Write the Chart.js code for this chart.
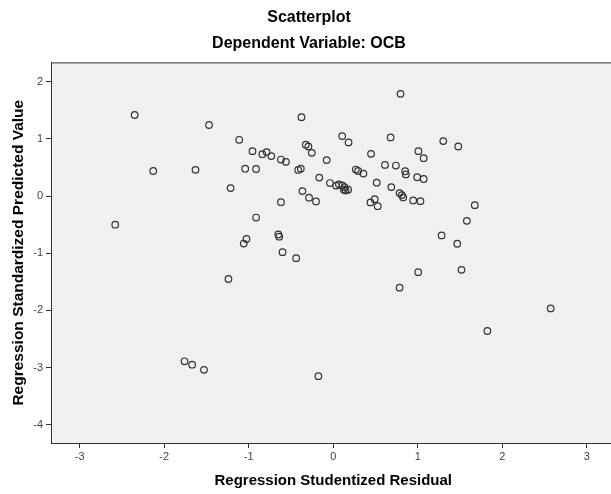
<!DOCTYPE html>
<html>
<head>
<meta charset="utf-8">
<script src="https://cdn.jsdelivr.net/npm/chart.js@4/dist/chart.umd.min.js"></script>
<style>
  html, body { margin: 0; padding: 0; background: #fff; overflow: hidden; }
  canvas { display: block; }
</style>
</head>
<body>
<canvas id="scatter" width="620" height="494"></canvas>
<script>
// Regression Studentized Residual (x) per case
const residuals = [
  -2.58, -2.35, -2.13, -1.63, -1.76, -1.67, -1.53, -1.47, -1.24, -1.215,
  -1.113, -1.059, -1.027, -1.042, -0.956, -0.913, -0.913, -0.839, -0.788, -0.733,
  -0.65, -0.639, -0.619, -0.56, -0.619, -0.60, -0.439, -0.415, -0.384, -0.376,
  -0.365, -0.325, -0.294, -0.254, -0.286, -0.204, -0.176, -0.165, -0.078, -0.039,
  0.035, 0.067, 0.106, 0.134, 0.146, 0.176, 0.126,
  0.106, 0.181, 0.267, 0.294, 0.357, 0.447, 0.44, 0.49, 0.526,
  0.514, 0.612, 0.679, 0.687, 0.741, 0.785, 0.785, 0.812, 0.828, 0.796,
  0.851, 0.859, 0.946, 1.032, 0.993, 1.07, 1.008, 1.07, 1.005, 1.282,
  1.302, 1.467, 1.479, 1.518, 1.581, 1.675, 1.824, 2.573
];
// Regression Standardized Predicted Value (y) per case
const predicted = [
  -0.50, 1.42, 0.44, 0.46, -2.89, -2.95, -3.04, 1.245, -1.45, 0.14,
  0.986, -0.83, -0.75, 0.48, 0.787, 0.475, -0.375, 0.734, 0.77, 0.70,
  -0.67, -0.71, 0.64, 0.60, -0.106, -0.98, -1.085, 0.458, 0.48, 1.38,
  0.088, 0.90, 0.87, 0.757, -0.028, -0.093, -3.15, 0.324, 0.63, 0.229,
  0.183, 0.206, 0.188, 0.158, 0.10, 0.113, 0.113,
  1.05, 0.94, 0.465, 0.44, 0.394, 0.74, -0.11, -0.053, -0.176,
  0.236, 0.546, 1.028, 0.158, 0.535, -1.602, 0.053, 0.018, -0.023, 1.79,
  0.435, 0.38, -0.076, -0.088, 0.33, 0.30, 0.787, 0.664, -1.33, -0.687,
  0.963, -0.833, 0.87, -1.29, -0.433, -0.158, -2.36, -1.965
];
const xTicks = [-3, -2, -1, 0, 1, 2, 3];
const yTicks = [-4, -3, -2, -1, 0, 1, 2];

const FONT = "'Liberation Sans', Arial, sans-serif";

const points = residuals.map((x, i) => ({ x: x, y: predicted[i] }));

// grey plot panel with a frame
const panel = {
  id: 'panel',
  beforeDraw(chart) {
    const a = chart.chartArea, ctx = chart.ctx;
    ctx.save();
    ctx.fillStyle = '#f0f0f0';
    ctx.fillRect(a.left, a.top, a.right - a.left, a.bottom - a.top);
    ctx.restore();
  },
  afterDatasetsDraw(chart) {
    const a = chart.chartArea, ctx = chart.ctx;
    ctx.save();
    ctx.strokeStyle = '#333';
    ctx.lineWidth = 1;
    ctx.strokeRect(a.left + 0.5, a.top + 0.5, a.right - a.left, a.bottom - a.top);
    ctx.restore();
  }
};

new Chart(document.getElementById('scatter'), {
  type: 'scatter',
  data: {
    datasets: [{
      data: points,
      pointStyle: 'circle',
      pointRadius: 3.3,
      pointHoverRadius: 3.3,
      backgroundColor: 'rgba(0,0,0,0)',
      borderColor: '#333',
      borderWidth: 1.2
    }]
  },
  options: {
    responsive: false,
    animation: false,
    devicePixelRatio: 1,
    layout: { padding: { left: 0, right: 2, top: 0, bottom: 0 } },
    plugins: {
      legend: { display: false },
      tooltip: { enabled: false },
      title: {
        display: true,
        text: 'Scatterplot',
        color: '#000',
        font: { family: FONT, size: 16, weight: 'bold' },
        padding: { top: 8, bottom: 7 }
      },
      subtitle: {
        display: true,
        text: 'Dependent Variable: OCB',
        color: '#000',
        font: { family: FONT, size: 16, weight: 'bold' },
        padding: { top: 0, bottom: 9 }
      }
    },
    scales: {
      x: {
        type: 'linear',
        min: -3.34,
        max: 3.34,
        afterBuildTicks: s => { s.ticks = xTicks.map(v => ({ value: v })); },
        afterFit: s => { s.height = 51; },
        grid: { drawOnChartArea: false, drawTicks: true, tickLength: 5, color: '#333' },
        border: { display: true, color: '#333' },
        ticks: { color: '#444', font: { family: FONT, size: 11 }, padding: 2 },
        title: {
          display: true,
          text: 'Regression Studentized Residual',
          color: '#000',
          font: { family: FONT, size: 15, weight: 'bold' },
          padding: { top: 0, bottom: 4 }
        }
      },
      y: {
        type: 'linear',
        min: -4.32,
        max: 2.34,
        afterBuildTicks: s => { s.ticks = yTicks.map(v => ({ value: v })); },
        afterFit: s => { s.width = 51; },
        grid: { drawOnChartArea: false, drawTicks: true, tickLength: 5, color: '#333' },
        border: { display: true, color: '#333' },
        ticks: { color: '#444', font: { family: FONT, size: 11 }, padding: 3 },
        title: {
          display: true,
          text: 'Regression Standardized Predicted Value',
          color: '#000',
          font: { family: FONT, size: 15.5, weight: 'bold' },
          padding: { top: 9, bottom: 0 }
        }
      }
    }
  },
  plugins: [panel]
});
</script>
</body>
</html>
